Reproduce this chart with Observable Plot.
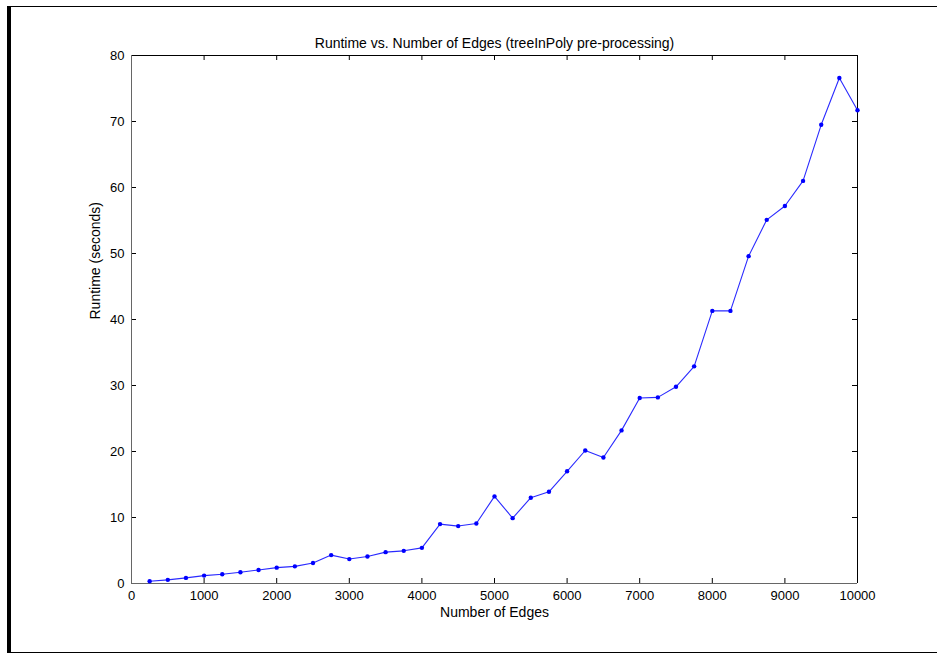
<!DOCTYPE html>
<html>
<head>
<meta charset="utf-8">
<script src="https://cdn.jsdelivr.net/npm/d3@7"></script>
<script src="https://cdn.jsdelivr.net/npm/@observablehq/plot@0.6"></script>
<style>
html, body { margin: 0; padding: 0; background: #fff; }
#wrap { position: relative; width: 937px; height: 654px; overflow: hidden; }
#border { position: absolute; left: 7px; top: 6px; width: 940px; height: 647px; box-sizing: border-box;
  border-top: 1px solid #000; border-left: 4px solid #000; border-bottom: 1px solid #000; }
#chart { position: absolute; left: 0; top: 0; }
</style>
</head>
<body>
<div id="wrap"><div id="border"></div><div id="chart"></div></div>
<script>
const title = "Runtime vs. Number of Edges (treeInPoly pre-processing)";
const xLabel = "Number of Edges";
const yLabel = "Runtime (seconds)";

const edges = [250, 500, 750, 1000, 1250, 1500, 1750, 2000, 2250, 2500,
  2750, 3000, 3250, 3500, 3750, 4000, 4250, 4500, 4750, 5000,
  5250, 5500, 5750, 6000, 6250, 6500, 6750, 7000, 7250, 7500,
  7750, 8000, 8250, 8500, 8750, 9000, 9250, 9500, 9750, 10000];
const runtime = [0.35, 0.55, 0.85, 1.2, 1.4, 1.7, 2.05, 2.4, 2.6, 3.1,
  4.3, 3.7, 4.1, 4.75, 4.95, 5.4, 9.0, 8.7, 9.1, 13.2,
  9.9, 13.0, 13.9, 17.0, 20.15, 19.1, 23.2, 28.1, 28.2, 29.8,
  32.9, 41.3, 41.3, 49.6, 55.1, 57.2, 61.0, 69.5, 76.6, 71.7];

const xTicks = [0, 1000, 2000, 3000, 4000, 5000, 6000, 7000, 8000, 9000, 10000];
const yTicks = [0, 10, 20, 30, 40, 50, 60, 70, 80];

const data = edges.map((e, i) => ({edges: e, runtime: runtime[i]}));

const W = 937, H = 654;
const mL = 131, mR = 80, mT = 55, mB = 71;
const plotW = W - mL - mR, plotH = H - mT - mB;
const tick = 5;
const font = "'Liberation Sans', Arial, sans-serif";

const chart = Plot.plot({
  width: W,
  height: H,
  marginLeft: mL,
  marginRight: mR,
  marginTop: mT,
  marginBottom: mB,
  style: {fontFamily: font, fontSize: "13px", color: "#000", background: "transparent", overflow: "visible"},
  x: {domain: [0, 10000], axis: null},
  y: {domain: [0, 80], axis: null},
  marks: [
    // inward ticks on all four sides
    Plot.tickX(xTicks.slice(1, -1), {x: d => d, insetTop: plotH - tick, stroke: "#000"}),
    Plot.tickX(xTicks.slice(1, -1), {x: d => d, insetBottom: plotH - tick, stroke: "#000"}),
    Plot.tickY(yTicks.slice(1, -1), {y: d => d, insetRight: plotW - tick, stroke: "#000"}),
    Plot.tickY(yTicks.slice(1, -1), {y: d => d, insetLeft: plotW - tick, stroke: "#000"}),
    // box
    Plot.ruleY([80], {stroke: "#000"}),
    Plot.ruleX([10000], {stroke: "#000"}),
    Plot.ruleY([0], {stroke: "#666"}),
    Plot.ruleX([0], {stroke: "#666"}),
    // tick labels
    Plot.axisX(xTicks, {tickSize: 0, tickPadding: 7, fontSize: 13, tickFormat: d => String(d), label: null}),
    Plot.axisY(yTicks, {tickSize: 0, tickPadding: 7, fontSize: 13, tickFormat: d => String(d), label: null}),
    // data
    Plot.line(data, {x: "edges", y: "runtime", stroke: "#2a2aff", strokeWidth: 1.1}),
    Plot.dot(data, {x: "edges", y: "runtime", r: 2.2, fill: "#0000ff", stroke: "none"}),
    // titles
    Plot.text([title], {text: d => d, frameAnchor: "top", dy: -17, fontSize: 14, fill: "#000"}),
    Plot.text([xLabel], {text: d => d, frameAnchor: "bottom", dy: 33, fontSize: 14, fill: "#000"}),
    Plot.text([yLabel], {text: d => d, frameAnchor: "left", dx: -36, rotate: -90, fontSize: 14, fill: "#000"})
  ]
});
document.getElementById("chart").appendChild(chart);
</script>
</body>
</html>
